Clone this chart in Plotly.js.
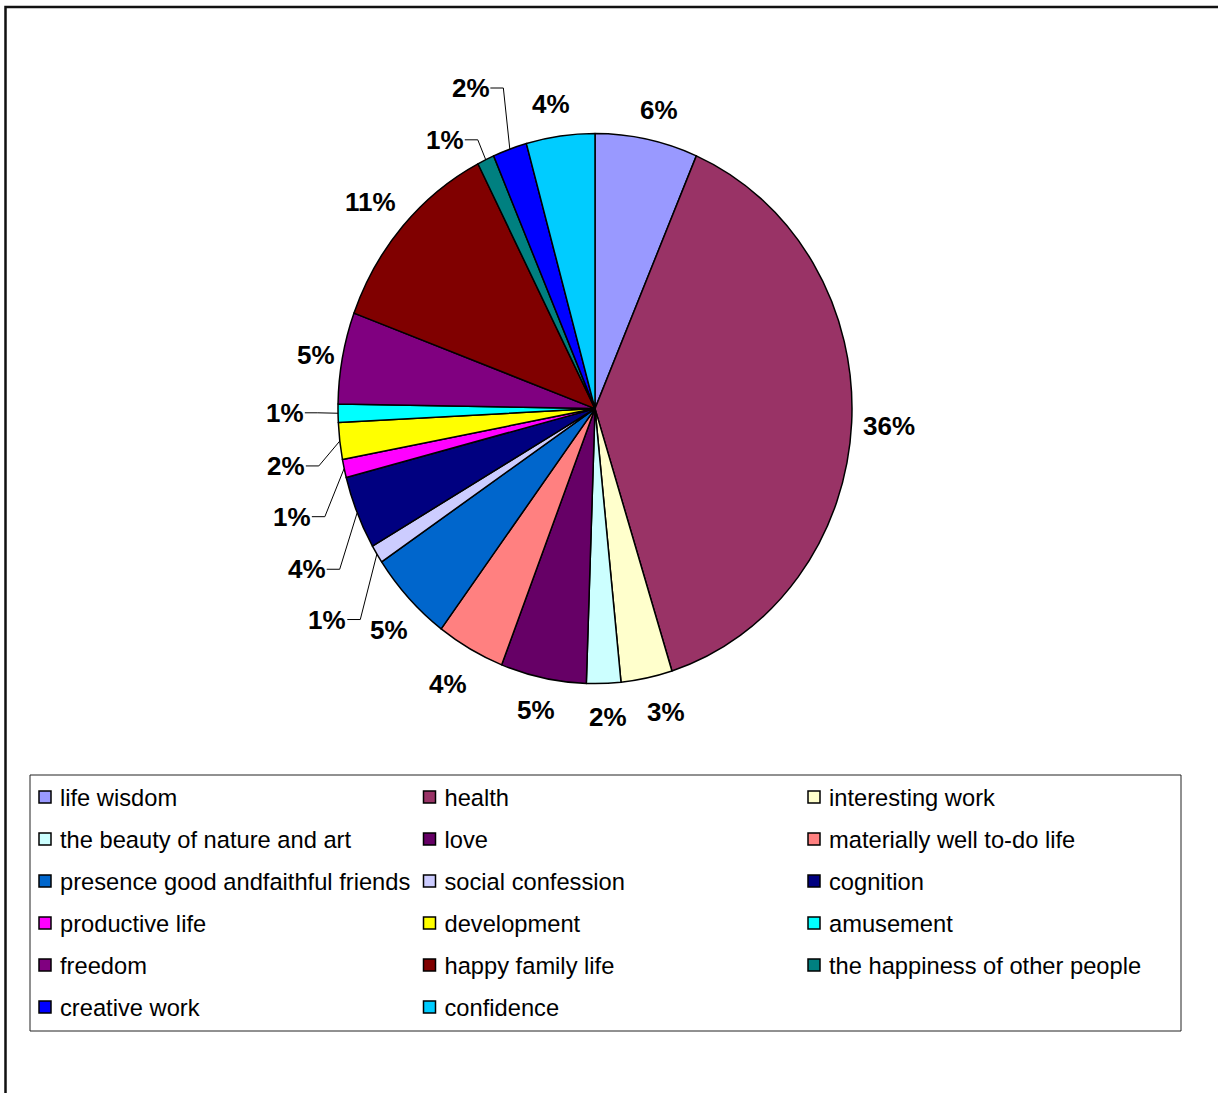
<!DOCTYPE html>
<html>
<head>
<meta charset="utf-8">
<script src="https://cdn.plot.ly/plotly-3.0.1.min.js"></script>
<style>
  html, body { margin: 0; padding: 0; background: #ffffff; }
  #chart { width: 1218px; height: 1093px; }
</style>
</head>
<body>
<div id="chart"></div>
<script>
// ---------------- DATA ----------------
const categories = [
  "life wisdom", "health", "interesting work", "the beauty of nature and art",
  "love", "materially well to-do life", "presence good andfaithful friends",
  "social confession", "cognition", "productive life", "development",
  "amusement", "freedom", "happy family life", "the happiness of other people",
  "creative work", "confidence"
];
const values = [6, 36, 3, 2, 5, 4, 5, 1, 4, 1, 2, 1, 5, 11, 1, 2, 4];
const sliceColors = [
  "#9999FF", "#993366", "#FFFFCC", "#CCFFFF", "#660066", "#FF8080", "#0066CC",
  "#CCCCFF", "#000080", "#FF00FF", "#FFFF00", "#00FFFF", "#800080", "#800000",
  "#008080", "#0000FF", "#00CCFF"
];
const percentLabels = values.map(v => v + "%");

// ---------------- LAYOUT / STYLE ----------------
const W = 1218, H = 1093;
const CX = 595, CY = 408.6;      // pie centre (px)
const RX = 257, RY = 275;        // pie radii (px) - the original pie is slightly elliptical
const R0 = 266;                  // radius plotly draws before the ellipse stretch
const GAP_X = 37, GAP_Y = 33;    // label distance outside the pie edge
const LABEL_SIZE = 26;
const LEGEND_SIZE = 23.7;
const FONT = "Liberation Sans, Arial, sans-serif";
// per-label nudges (px) and leader-line flags, as placed in the original
const labelShift = [[5,3],[0,2],[12,2],[3,1],[0,0],[-4,6],[7,9],[-18,48],[-16,44],
                    [-16,41],[-17,21],[-16,-1],[10,3],[-5,-2],[-25,10],[-27,-30],[-4,1]];
const hasLeader = [0,0,0,0,0,0,0,1,1,1,1,1,0,0,1,1,0];

const px = x => x / W;
const py = y => 1 - y / H;

const total = values.reduce((a, b) => a + b, 0);
const annotations = [];
const shapes = [];
let cum = 0;
values.forEach((v, i) => {
  const mid = (cum + v / 2) / total * 2 * Math.PI;
  cum += v;
  const s = Math.sin(mid), c = Math.cos(mid);
  const lx = CX + (RX + GAP_X) * s + labelShift[i][0];
  const ly = CY - (RY + GAP_Y) * c + labelShift[i][1];
  annotations.push({
    xref: "paper", yref: "paper", x: px(lx), y: py(ly),
    text: percentLabels[i], showarrow: false,
    xanchor: "center", yanchor: "middle",
    font: { family: FONT, size: LABEL_SIZE, color: "#000000", weight: "bold" }
  });
  if (hasLeader[i]) {
    const ex = CX + RX * s, ey = CY - RY * c;
    const txt = percentLabels[i];
    const half = ((txt.length - 1) * 0.556 + 0.889) * LABEL_SIZE / 2;
    const x0 = lx + half + 1, x1 = x0 + 13;
    shapes.push({
      type: "path", xref: "paper", yref: "paper",
      path: "M" + px(x0) + "," + py(ly) + " L" + px(x1) + "," + py(ly) + " L" + px(ex) + "," + py(ey),
      line: { color: "#000000", width: 1 }
    });
  }
});

// outer chart frame
shapes.push({
  type: "rect", xref: "paper", yref: "paper",
  x0: px(5.5), x1: 1.1, y0: py(7), y1: -0.1,
  line: { color: "#111111", width: 2.5 }, fillcolor: "rgba(0,0,0,0)"
});
// legend frame
shapes.push({
  type: "rect", xref: "paper", yref: "paper",
  x0: px(30), x1: px(1181), y0: py(775), y1: py(1031),
  line: { color: "#222222", width: 1 }, fillcolor: "rgba(0,0,0,0)"
});

const legendLabels = categories.map(t => '<span style="font-size:' + LEGEND_SIZE + 'px">' + t + '</span>');

const trace = {
  type: "pie",
  labels: legendLabels,
  values: values,
  sort: false,
  direction: "clockwise",
  rotation: 0,
  textinfo: "none",
  hoverinfo: "none",
  marker: { colors: sliceColors, line: { color: "#000000", width: 1.5 } },
  domain: { x: [px(CX - R0), px(CX + R0)], y: [py(CY + R0), py(CY - R0)] },
  showlegend: true
};

const layout = {
  width: W, height: H,
  margin: { l: 0, r: 0, t: 0, b: 0, autoexpand: false },
  paper_bgcolor: "#ffffff",
  plot_bgcolor: "#ffffff",
  showlegend: true,
  legend: {
    orientation: "h",
    x: px(20), xanchor: "left",
    y: py(771), yanchor: "top",
    font: { family: FONT, size: 30, color: "#000000" },
    entrywidth: 339.5, entrywidthmode: "pixels",
    bgcolor: "rgba(0,0,0,0)", borderwidth: 0,
    traceorder: "normal"
  },
  annotations: annotations,
  shapes: shapes,
  font: { family: FONT }
};

function finishPie(gd) {
  const cd0 = gd.calcdata && gd.calcdata[0] && gd.calcdata[0][0];
  if (!cd0) return;
  const cx = cd0.cx, cy = cd0.cy, r = cd0.r;
  const t = "translate(" + cx + "," + cy + ") scale(" + (RX / r) + "," + (RY / r) + ") translate(" + (-cx) + "," + (-cy) + ")";
  gd.querySelectorAll(".pielayer path.surface").forEach(p => {
    p.setAttribute("transform", t);
    p.style.vectorEffect = "non-scaling-stroke";
  });
  // legend fine alignment: text centred on swatch, swatch nearer the text
  gd.querySelectorAll(".legend text.legendtext").forEach(el => el.setAttribute("transform", "translate(0,-3)"));
  gd.querySelectorAll(".legend g.legendpoints").forEach(el => el.setAttribute("transform", "translate(5,0)"));
}

const gd = document.getElementById("chart");
Plotly.newPlot(gd, [trace], layout, { staticPlot: true, displayModeBar: false }).then(() => {
  finishPie(gd);
  gd.on && gd.on("plotly_afterplot", () => finishPie(gd));
});
</script>
</body>
</html>
